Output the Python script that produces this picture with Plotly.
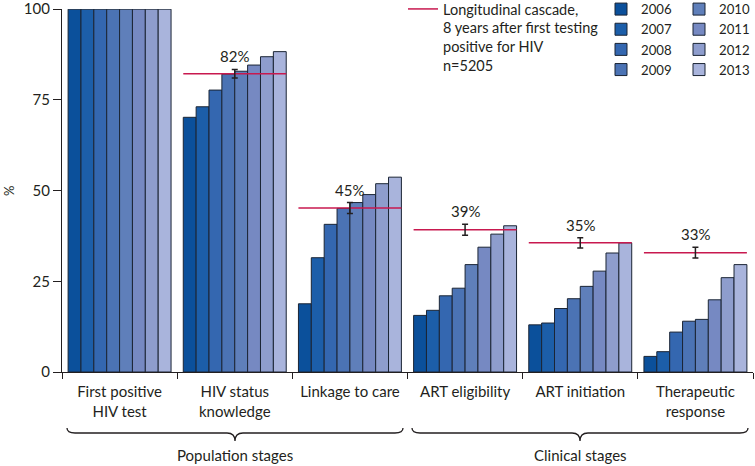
import plotly.graph_objects as go

# ---------------- data ----------------
categories = ["First positive<br>HIV test", "HIV status<br>knowledge", "Linkage to care",
              "ART eligibility", "ART initiation", "Therapeutic<br>response"]
years = ["2006", "2007", "2008", "2009", "2010", "2011", "2012", "2013"]

v2006 = [100, 70.2, 18.8, 15.6, 13.0, 4.3]
v2007 = [100, 73.1, 31.5, 17.0, 13.5, 5.6]
v2008 = [100, 77.7, 40.7, 21.0, 17.5, 11.0]
v2009 = [100, 82.1, 45.1, 23.1, 20.2, 14.0]
v2010 = [100, 82.9, 46.7, 29.6, 23.6, 14.5]
v2011 = [100, 84.6, 48.9, 34.4, 27.8, 19.9]
v2012 = [100, 86.9, 51.9, 38.0, 32.8, 26.0]
v2013 = [100, 88.3, 53.7, 40.3, 35.6, 29.6]
year_values = [v2006, v2007, v2008, v2009, v2010, v2011, v2012, v2013]

# longitudinal cascade (stages 2-6, category index 1..5)
long_idx = [1, 2, 3, 4, 5]
long_values = [82.2, 45.2, 39.2, 35.6, 32.9]
long_err = [1.2, 1.5, 1.5, 1.4, 1.5]
long_labels = ["82%", "45%", "39%", "35%", "33%"]

y_ticks = [0, 25, 50, 75, 100]
stage_groups = ["Population stages", "Clinical stages"]

# ---------------- style ----------------
colors = ["#0b509b", "#1c5ea9", "#3467b0", "#4b73b4", "#5f7fba", "#7689c2", "#8e9dcd", "#a9b4dc"]
edge = "#1b2535"
red = "#c8194f"
ink = "#231f20"
FONT = "Lato"

W, H = 755, 466
ML, MR, MT, MB = 62, 2, 9, 94
PW, PH = W - ML - MR, H - MT - MB
BARGAP = 0.106


def xp(X):  # page pixel -> paper x
    return (X - ML) / PW


def yp(Y):  # page pixel -> paper y
    return (H - MB - Y) / PH


fig = go.Figure()

for yr, vals, col in zip(years, year_values, colors):
    fig.add_trace(go.Bar(
        x=categories, y=vals, name=yr,
        marker=dict(color=col, line=dict(color=edge, width=1)),
        legend="legend2" if int(yr) <= 2009 else "legend3",
        hoverinfo="skip",
    ))

# red longitudinal lines spanning each group
half = (1 - BARGAP) / 2
lx, ly = [], []
for i, v in zip(long_idx, long_values):
    lx += [i - half, i + half, None]
    ly += [v, v, None]
fig.add_trace(go.Scatter(
    x=lx, y=ly, mode="lines", xaxis="x2",
    line=dict(color=red, width=1.5),
    name="Longitudinal cascade,<br>8 years after first testing<br>positive for HIV<br>n=5205",
    legend="legend", hoverinfo="skip",
))

# error bars
fig.add_trace(go.Scatter(
    x=long_idx, y=long_values, mode="markers", xaxis="x2",
    marker=dict(size=0.1, color="rgba(0,0,0,0)"),
    error_y=dict(type="data", array=long_err, color=ink, thickness=1.5, width=3),
    showlegend=False, hoverinfo="skip",
))

annotations = []
for i, v, e, t in zip(long_idx, long_values, long_err, long_labels):
    annotations.append(dict(
        x=i, y=v + e, xref="x2", yref="y", text=t, showarrow=False,
        yanchor="bottom", yshift=2, font=dict(size=15, color=ink, family=FONT),
    ))

# y-axis title
annotations.append(dict(x=xp(9), y=yp(191), xref="paper", yref="paper", text="%",
                        showarrow=False, textangle=-90, xanchor="center", yanchor="middle",
                        font=dict(size=13, color=ink, family=FONT)))


# braces
def brace(x0, x1, ytop=428, ymid=433, ytip=441, r=8):
    xc = (x0 + x1) / 2
    pts = [
        f"M {xp(x0)},{yp(ytop)}",
        f"Q {xp(x0)},{yp(ymid)} {xp(x0 + r)},{yp(ymid)}",
        f"L {xp(xc - r)},{yp(ymid)}",
        f"Q {xp(xc)},{yp(ymid)} {xp(xc)},{yp(ytip)}",
        f"Q {xp(xc)},{yp(ymid)} {xp(xc + r)},{yp(ymid)}",
        f"L {xp(x1 - r)},{yp(ymid)}",
        f"Q {xp(x1)},{yp(ymid)} {xp(x1)},{yp(ytop)}",
    ]
    return dict(type="path", path=" ".join(pts), xref="paper", yref="paper",
                line=dict(color=ink, width=1.3))


brace_spans = [(67, 403), (412, 748)]
shapes = [brace(a, b) for a, b in brace_spans]
for (a, b), name in zip(brace_spans, stage_groups):
    annotations.append(dict(
        x=xp((a + b) / 2), y=yp(455), xref="paper", yref="paper", text=name,
        showarrow=False, yanchor="middle", xanchor="center",
        font=dict(size=15, color=ink, family=FONT),
    ))

fig.update_layout(
    width=W, height=H,
    margin=dict(l=ML, r=MR, t=MT, b=MB, autoexpand=False),
    paper_bgcolor="white", plot_bgcolor="white",
    font=dict(family=FONT, size=15, color=ink),
    barmode="group", bargap=BARGAP, bargroupgap=0,
    shapes=shapes, annotations=annotations,
    xaxis=dict(
        type="category", range=[-0.5, 5.5], tickson="boundaries",
        ticks="outside", ticklen=6, tickwidth=1.3, tickcolor=ink,
        ticklabelstandoff=6,
        showline=True, linecolor=ink, linewidth=1.3, showgrid=False,
        tickfont=dict(size=15, color=ink, family=FONT), fixedrange=True,
    ),
    xaxis2=dict(overlaying="x", anchor="y", range=[-0.5, 5.5], visible=False, fixedrange=True),
    yaxis=dict(
        range=[0, 100.05], tickvals=y_ticks, ticklabeloverflow="allow",
        ticks="outside", ticklen=8, tickwidth=1.3, tickcolor=ink,
        showline=True, linecolor=ink, linewidth=1.3, showgrid=False, zeroline=False,
        tickfont=dict(size=15, color=ink, family=FONT),
        fixedrange=True,
    ),
    legend=dict(x=xp(403), y=yp(-7), xanchor="left", yanchor="top",
                bgcolor="rgba(0,0,0,0)", valign="top",
                font=dict(size=14.5, color=ink, family=FONT)),
    legend2=dict(x=xp(601), y=yp(-6), xanchor="left", yanchor="top",
                 bgcolor="rgba(0,0,0,0)", tracegroupgap=0,
                 font=dict(size=13.2, color=ink, family=FONT)),
    legend3=dict(x=xp(679), y=yp(-6), xanchor="left", yanchor="top",
                 bgcolor="rgba(0,0,0,0)", tracegroupgap=0,
                 font=dict(size=13.2, color=ink, family=FONT)),
    showlegend=True,
)

fig.write_html(
    "out.html",
    config={"displayModeBar": False},
    post_script="document.body.style.margin='0';document.body.style.overflow='hidden';",
)
